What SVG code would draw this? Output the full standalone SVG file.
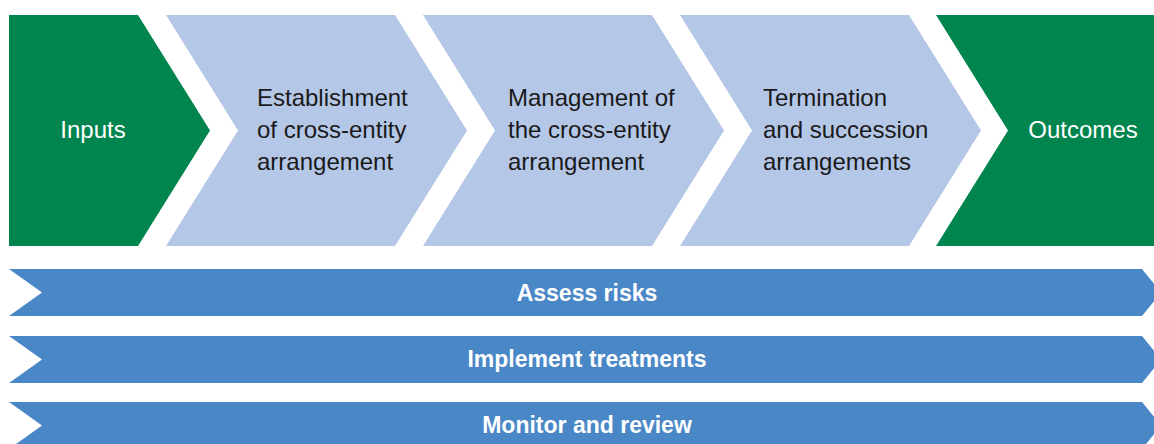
<svg xmlns="http://www.w3.org/2000/svg" width="1154" height="444" viewBox="0 0 1154 444">
<style>
.green{fill:#00854F}
.light{fill:#B5C7E7}
.band{fill:#4A87C6}
.wt{font-family:"Liberation Sans",Arial,sans-serif;font-size:24px;fill:#ffffff}
.bt{font-family:"Liberation Sans",Arial,sans-serif;font-size:24px;fill:#1a1a1a}
.bandt{font-family:"Liberation Sans",Arial,sans-serif;font-size:23px;font-weight:bold;fill:#ffffff;text-anchor:middle}
</style>
<rect width="1154" height="444" fill="#ffffff"/>
<g id="inputs">
<path class="green" d="M9,15 L138,15 L210,130.5 L138,246 L9,246 Z"/>
<text class="wt" x="93" y="138" text-anchor="middle">Inputs</text>
</g>
<g id="establishment">
<path class="light" d="M166,15 L395,15 L467,130.5 L395,246 L166,246 L238,130.5 Z"/>
<text class="bt" x="257" y="105.5">Establishment</text>
<text class="bt" x="257" y="137.5">of cross-entity</text>
<text class="bt" x="257" y="169.5">arrangement</text>
</g>
<g id="management">
<path class="light" d="M423,15 L652,15 L724,130.5 L652,246 L423,246 L495,130.5 Z"/>
<text class="bt" x="508" y="105.5">Management of</text>
<text class="bt" x="508" y="137.5">the cross-entity</text>
<text class="bt" x="508" y="169.5">arrangement</text>
</g>
<g id="termination">
<path class="light" d="M680,15 L909,15 L981,130.5 L909,246 L680,246 L752,130.5 Z"/>
<text class="bt" x="763" y="105.5">Termination</text>
<text class="bt" x="763" y="137.5">and succession</text>
<text class="bt" x="763" y="169.5">arrangements</text>
</g>
<g id="outcomes">
<path class="green" d="M936,15 L1154,15 L1154,246 L936,246 L1008,130.5 Z"/>
<text class="wt" x="1083" y="138" text-anchor="middle">Outcomes</text>
</g>
<g id="assess-risks">
<path class="band" d="M9,269 L1142,269 L1161,292.5 L1142,316 L9,316 L42,292.5 Z"/>
<text class="bandt" x="587" y="301">Assess risks</text>
</g>
<g id="implement-treatments">
<path class="band" d="M9,336 L1142,336 L1161,359.5 L1142,383 L9,383 L42,359.5 Z"/>
<text class="bandt" x="587" y="367">Implement treatments</text>
</g>
<g id="monitor-review">
<path class="band" d="M9,402 L1142,402 L1161,425.5 L1142,449 L9,449 L42,425.5 Z"/>
<text class="bandt" x="587" y="433">Monitor and review</text>
</g>
<g id="connectors"/>
</svg>
